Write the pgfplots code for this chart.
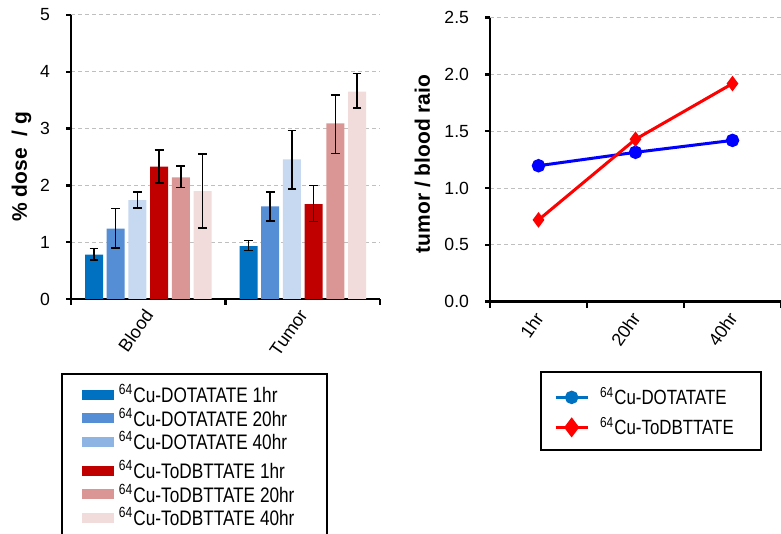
\documentclass[border=0pt]{standalone}
\usepackage{fontspec}
\setmainfont{Liberation Sans}
\newfontfamily\narrowfont[FakeStretch=0.82]{Liberation Sans}
\usepackage{pgfplots}
\pgfplotsset{compat=1.18}
\definecolor{cA}{HTML}{0070C0}
\definecolor{cB}{HTML}{558ED5}
\definecolor{cC}{HTML}{C6D9F1}
\definecolor{cCl}{HTML}{8EB4E3}
\definecolor{rA}{HTML}{C00000}
\definecolor{rB}{HTML}{D99694}
\definecolor{rC}{HTML}{F2DCDB}
\definecolor{gridc}{HTML}{BFBFBF}
\definecolor{legblue}{HTML}{0070C0}
\newcommand{\legtxt}[2]{\makebox[#1][l]{#2}}
\pgfplotsset{
  ybar legend/.style={legend image code/.code={\path (0pt,0pt); \fill[##1] (6pt,1.3pt) rectangle (22pt,6.3pt);}},
  mylinelegend/.style={legend image code/.code={\path (0pt,0pt); \draw[##1, mark repeat=2, mark phase=2] plot coordinates {(0pt,3.8pt) (8pt,3.8pt) (16pt,3.8pt)};}},
  eb/.style={error bars/.cd, y dir=both, y explicit,
    error bar style={line width=0.75pt, black},
    error mark options={rotate=90, mark size=2.2pt, line width=0.75pt, black},
    /pgfplots/.cd},
  common/.style={
    scale only axis,
    axis lines=left,
    axis line style={-, line width=1.3pt, black},
    tick align=outside,
    major tick length=2.5pt,
    minor tick length=3pt,
    major x tick style={draw=none},
    minor x tick style={draw=black, line width=1.3pt},
    major y tick style={draw=black, line width=1.2pt},
    ymajorgrids,
    grid style={gridc, line width=0.5pt, dash pattern=on 2pt off 1.5pt},
    tick label style={font=\fontsize{8.8}{10}\selectfont},
    /pgf/number format/assume math mode=true,
    yticklabel style={xshift=-4.5pt},
    xticklabel style={rotate=55, anchor=east, yshift=-2.5pt, xshift=0.5pt, font=\fontsize{9}{10}\selectfont},
    every axis y label/.style={rotate=90, anchor=center, font=\bfseries\fontsize{10.5}{12}\selectfont},
  },
}
\begin{document}
\begin{tikzpicture}
\path[use as bounding box] (0,0) rectangle (390.5pt,267pt);
\clip (0,0) rectangle (390.5pt,267pt);
\begin{axis}[common,
  at={(35.5pt,117.5pt)}, anchor=south west,
  width=154.5pt, height=142pt,
  ybar=1.85pt, bar width=9pt,
  xmin=0.5, xmax=2.5, ymin=0, ymax=5,
  xtick={1,2}, xticklabels={Blood,Tumor},
  minor xtick={0.5,1.5,2.5},
  ytick={0,1,2,3,4,5},
  ylabel={\% dose~ / g},
  ylabel style={at={(axis description cs:-0.16,0.466)}},
  legend style={at={(-0.0324,-0.2606)}, anchor=north west, draw=black, line width=1pt,
    font=\narrowfont\fontsize{10.5}{12}\selectfont,
    inner xsep=4pt, inner ysep=4.5pt, column sep=2.5pt, row sep=0pt,
    cells={anchor=base west}, nodes={inner sep=0pt}},
]
\addplot[fill=cA, draw=none, eb] coordinates {(1,0.78) += (0,0.11) -= (0,0.09) (2,0.93) += (0,0.10) -= (0,0.08)};
\addlegendentry[text height=9.75pt, text depth=2pt]{\legtxt{100pt}{\textsuperscript{64}Cu-DOTATATE 1hr}}
\addplot[fill=cB, draw=none, eb] coordinates {(1,1.24) += (0,0.35) -= (0,0.34) (2,1.63) += (0,0.25) -= (0,0.26)};
\addlegendentry[text height=9.75pt, text depth=2pt]{\legtxt{100pt}{\textsuperscript{64}Cu-DOTATATE 20hr}}
\addplot[fill=cC, draw=none, legend image post style={fill=cCl}, eb] coordinates {(1,1.74) += (0,0.14) -= (0,0.14) (2,2.46) += (0,0.51) -= (0,0.52)};
\addlegendentry[text height=9.75pt, text depth=2pt]{\legtxt{100pt}{\textsuperscript{64}Cu-DOTATATE 40hr}}
\addplot[fill=rA, draw=none, eb] coordinates {(1,2.33) += (0,0.29) -= (0,0.29) (2,1.67) += (0,0.33) -= (0,0.31)};
\addlegendentry[text height=12.5pt, text depth=2pt]{\legtxt{100pt}{\textsuperscript{64}Cu-ToDBTTATE 1hr}}
\addplot[fill=rB, draw=none, eb] coordinates {(1,2.14) += (0,0.20) -= (0,0.18) (2,3.09) += (0,0.50) -= (0,0.53)};
\addlegendentry[text height=9.75pt, text depth=2pt]{\legtxt{100pt}{\textsuperscript{64}Cu-ToDBTTATE 20hr}}
\addplot[fill=rC, draw=none, eb] coordinates {(1,1.90) += (0,0.65) -= (0,0.65) (2,3.65) += (0,0.32) -= (0,0.29)};
\addlegendentry[text height=9.75pt, text depth=2pt]{\legtxt{100pt}{\textsuperscript{64}Cu-ToDBTTATE 40hr}}
\end{axis}
\begin{axis}[common,
  at={(245pt,116.15pt)}, anchor=south west,
  width=145.5pt, height=142pt,
  xmin=0.5, xmax=3.5, ymin=0, ymax=2.5,
  xtick={1,2,3}, xticklabels={1hr,20hr,40hr},
  minor xtick={0.5,1.5,2.5,3.5},
  ytick={0,0.5,1,1.5,2,2.5},
  yticklabel style={/pgf/number format/.cd, fixed, fixed zerofill, precision=1},
  ylabel={tumor / blood raio},
  ylabel style={at={(axis description cs:-0.232,0.485)}},
  legend style={at={(0.1724,-0.244)}, anchor=north west, draw=black, line width=1pt,
    font=\narrowfont\fontsize{10.3}{12}\selectfont,
    inner xsep=6.5pt, inner ysep=4.5pt, column sep=5.5pt, row sep=0pt,
    cells={anchor=base west}, nodes={inner sep=0pt}},
]
\addplot[blue, line width=1.5pt, mark=*, mark size=2.6pt, mylinelegend,
  legend image post style={color=legblue}] coordinates {(1,1.197) (2,1.315) (3,1.42)};
\addlegendentry[text height=12pt, text depth=3pt]{\legtxt{74pt}{\textsuperscript{64}Cu-DOTATATE}}
\addplot[red, line width=1.5pt, mark=diamond*, mark size=2.7pt, mylinelegend,
  legend image post style={mark size=3.8pt}] coordinates {(1,0.72) (2,1.43) (3,1.92)};
\addlegendentry[text height=12pt, text depth=3pt]{\legtxt{74pt}{\textsuperscript{64}Cu-ToDBTTATE}}
\end{axis}
\end{tikzpicture}
\end{document}
